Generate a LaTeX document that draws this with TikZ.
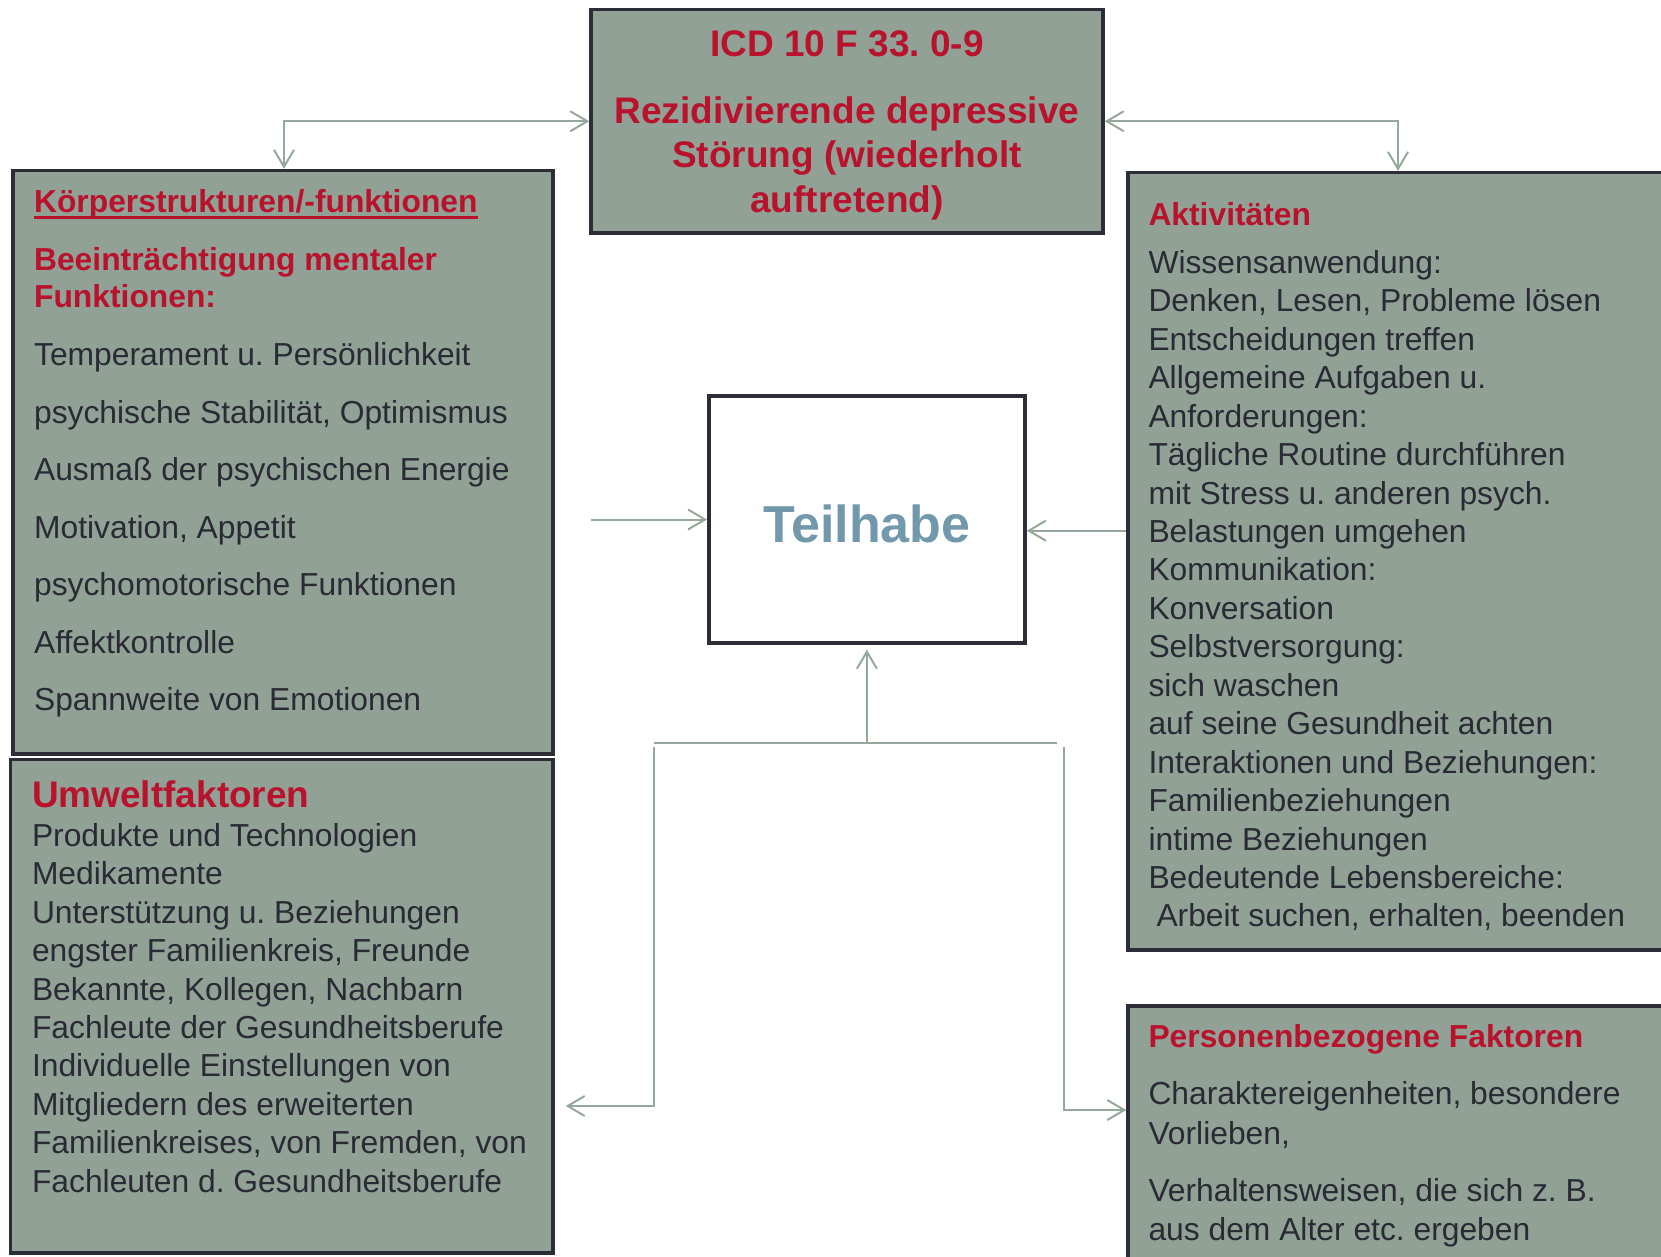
\documentclass[tikz,border=0pt]{standalone}
\usepackage{fontspec}
\setmainfont{Liberation Sans}
\usetikzlibrary{arrows.meta,calc}
\frenchspacing

\definecolor{boxfill}{RGB}{145,161,150}
\definecolor{boxline}{RGB}{45,45,55}
\definecolor{linkcol}{RGB}{150,168,156}
\definecolor{redtext}{RGB}{185,18,45}
\definecolor{darktext}{RGB}{42,42,52}
\definecolor{teilblue}{RGB}{113,152,171}

\begin{document}
\begin{tikzpicture}[x=1pt,y=-1pt,
  panel/.style={draw=boxline, fill=boxfill, line width=3.5pt, rectangle, inner sep=0pt},
  centerbox/.style={draw=boxline, fill=white, line width=3.5pt, rectangle, inner sep=0pt},
  txt/.style={inner sep=0pt, anchor=base west, font=\fontsize{31.8}{38}\selectfont, text=darktext},
  head/.style={inner sep=0pt, anchor=base west, font=\fontsize{31.8}{38}\selectfont\bfseries, text=redtext},
  bighead/.style={inner sep=0pt, anchor=base west, font=\fontsize{37}{44}\selectfont\bfseries, text=redtext},
  title/.style={inner sep=0pt, anchor=base, font=\fontsize{37}{44}\selectfont\bfseries, text=redtext},
  link/.style={draw=linkcol, line width=2pt},
  >={Straight Barb[length=17pt,width=20pt]}
]
\useasboundingbox (0,0) rectangle (1661,1256);
\clip (0,0) rectangle (1661,1256);

% ---------- boxes ----------
\node[panel, minimum width=512pt, minimum height=223.5pt] (icd) at (847,121.25) {};
\node[panel, minimum width=540.3pt, minimum height=583.5pt] (koerper) at (282.9,462.25) {};
\node[panel, minimum width=542.4pt, minimum height=493.5pt] (umwelt) at (281.8,1006.25) {};
\node[panel, minimum width=572pt, minimum height=777.4pt] (aktiv) at (1414,561.3) {};
\node[panel, minimum width=572pt, minimum height=294pt] (personen) at (1414,1153) {};
\node[centerbox, minimum width=316.3pt, minimum height=247pt] (teil) at (866.9,519.5) {};

% ---------- diagnosis ----------
\node[title] (icd1) at (847,56) {ICD 10 F 33. 0-9};
\node[title] (icd2) at (847,123) {Rezidivierende depressive};
\node[title] (icd3) at (847,167.4) {Störung (wiederholt};
\node[title] (icd4) at (847,212) {auftretend)};

% ---------- participation ----------
\node[inner sep=0pt, anchor=base, font=\fontsize{52}{60}\selectfont\bfseries, text=teilblue] (teiltxt) at (867,542.6) {Teilhabe};

% ---------- body structures / functions ----------
\node[head] (kh) at (33.9,212) {Körperstrukturen/-funktionen};
\draw[redtext, line width=3pt] ($(kh.base west)+(0,5)$) -- ($(kh.base east)+(0,5)$);
\node[head] (kb1) at (33.9,270) {Beeinträchtigung mentaler};
\node[head] (kb2) at (33.9,307) {Funktionen:};
\foreach \t [count=\i] in {Temperament u. Persönlichkeit,
  {psychische Stabilität, Optimismus},
  Ausmaß der psychischen Energie,
  {Motivation, Appetit},
  psychomotorische Funktionen,
  Affektkontrolle,
  Spannweite von Emotionen}
  \node[txt] (k\i) at ({33.9},{365.5+(\i-1)*57.5}) {\t};

% ---------- activities ----------
\node[head] (ah) at (1148.3,225.6) {Aktivitäten};
\foreach \t [count=\i] in {Wissensanwendung:,
  {Denken, Lesen, Probleme lösen},
  Entscheidungen treffen,
  Allgemeine Aufgaben u.,
  Anforderungen:,
  Tägliche Routine durchführen,
  mit Stress u. anderen psych.,
  Belastungen umgehen,
  Kommunikation:,
  Konversation,
  Selbstversorgung:,
  sich waschen,
  auf seine Gesundheit achten,
  Interaktionen und Beziehungen:,
  Familienbeziehungen,
  intime Beziehungen,
  Bedeutende Lebensbereiche:,
  {\hspace*{8pt}Arbeit suchen, erhalten, beenden}}
  \node[txt] (a\i) at ({1148.3},{273.3+(\i-1)*38.45}) {\t};

% ---------- environmental factors ----------
\node[bighead] (uh) at (31.8,807.7) {Umweltfaktoren};
\foreach \t [count=\i] in {Produkte und Technologien,
  Medikamente,
  Unterstützung u. Beziehungen,
  {engster Familienkreis, Freunde},
  {Bekannte, Kollegen, Nachbarn},
  Fachleute der Gesundheitsberufe,
  Individuelle Einstellungen von,
  Mitgliedern des erweiterten,
  {Familienkreises, von Fremden, von},
  Fachleuten d. Gesundheitsberufe}
  \node[txt] (u\i) at ({31.8},{846.4+(\i-1)*38.4}) {\t};

% ---------- personal factors ----------
\node[head] (ph) at (1148.3,1047.6) {Personenbezogene Faktoren};
\node[txt] (p1) at (1148.3,1104.9) {Charaktereigenheiten, besondere};
\node[txt] (p2) at (1148.3,1144) {Vorlieben,};
\node[txt] (p3) at (1148.3,1201) {Verhaltensweisen, die sich z. B.};
\node[txt] (p4) at (1148.3,1240.4) {aus dem Alter etc. ergeben};

% ---------- connectors ----------
\coordinate (kx) at (284,0);
\coordinate (ax) at (1398,0);
\draw[link,<->] (icd.west) -| (koerper.north -| kx);
\draw[link,<->] (icd.east) -| (aktiv.north -| ax);

\coordinate (lin) at (591,519.5);
\draw[link,->] (lin) -- (teil.west);
\coordinate (ry) at (0,530.7);
\draw[link,->] (aktiv.west |- ry) -- (teil.east |- ry);

\coordinate (barL) at (653.6,742.6);
\coordinate (barR) at (1057,742.6);
\draw[link] (barL) -- (barR);
\draw[link,->,shorten >=5pt] (barL -| teil.south) -- (teil.south);

\coordinate (dl) at (653.6,747);
\coordinate (ly) at (0,1106);
\draw[link,->,shorten >=11pt] (dl) |- (umwelt.east |- ly);
\coordinate (dr) at (1063.5,747);
\coordinate (py) at (0,1110);
\draw[link,->] (dr) |- (personen.west |- py);
\end{tikzpicture}
\end{document}
